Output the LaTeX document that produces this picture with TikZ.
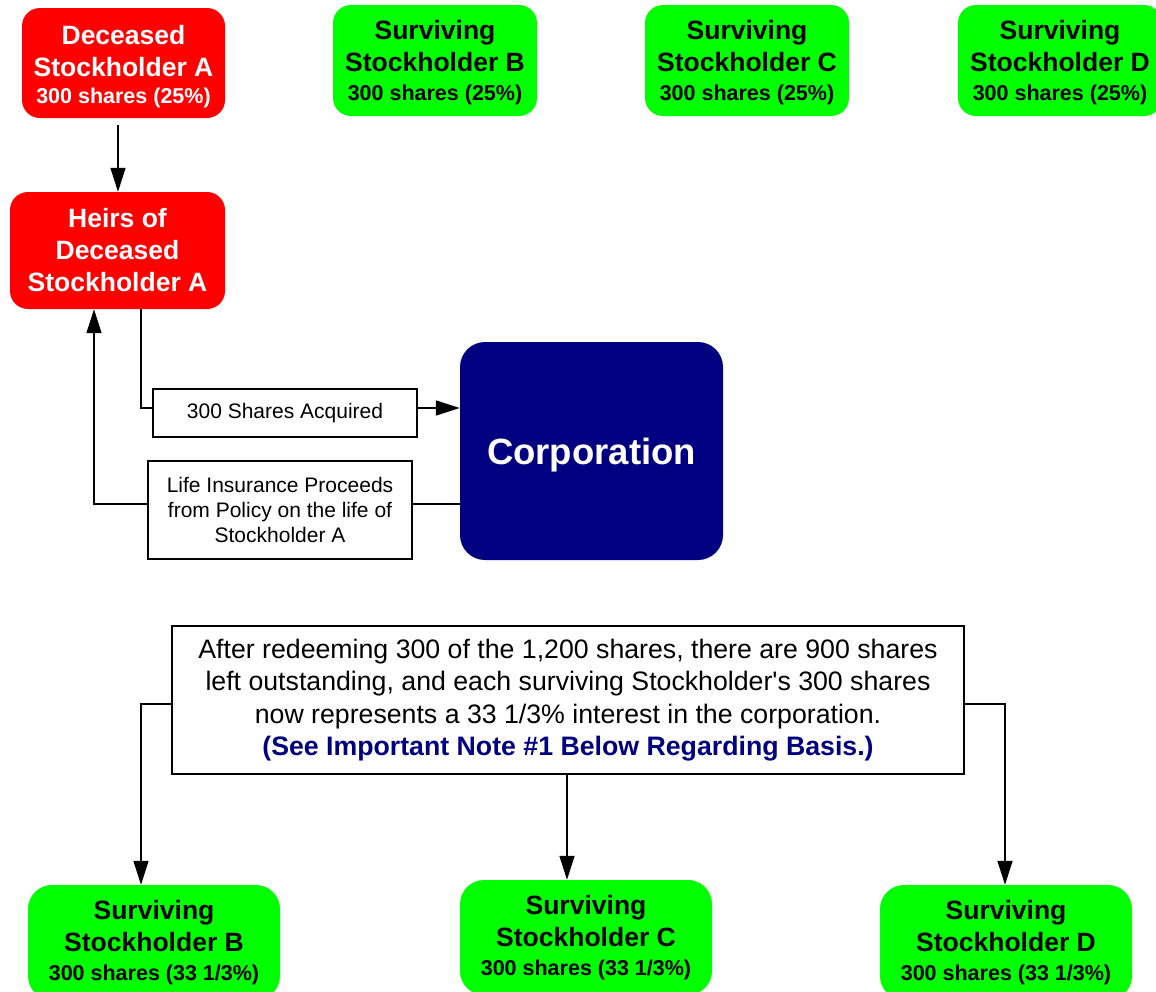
\documentclass[tikz,border=0pt]{standalone}
\usepackage{fontspec}
\setmainfont{Liberation Sans}
\usetikzlibrary{arrows.meta}
\definecolor{rred}{HTML}{FF0000}
\definecolor{ggreen}{HTML}{00FF00}
\definecolor{nnavy}{HTML}{000080}
\newcommand{\hd}{\fontsize{26.5}{32}\selectfont\bfseries}
\newcommand{\sh}{\fontsize{21.5}{29}\selectfont\bfseries}
\tikzset{
  redbox/.style={fill=rred, rounded corners=18pt, inner sep=0pt, minimum width=203pt, minimum height=110pt},
  greenbox/.style={fill=ggreen, rounded corners=18pt, inner sep=0pt, minimum width=204pt, minimum height=111pt},
  greenbig/.style={fill=ggreen, rounded corners=24pt, inner sep=0pt, minimum width=252pt, minimum height=115pt},
  boxtext/.style={inner sep=0pt, align=center, font=\hd},
  plainbox/.style={draw=black, line width=1.5pt, fill=white, inner sep=0pt, align=center},
  conn/.style={line width=1.5pt, draw=black},
  arr/.style={conn, -{Triangle[length=24pt,width=15pt]}}
}
\begin{document}
\begin{tikzpicture}[x=1pt,y=-1pt]
\useasboundingbox (0,0) rectangle (1156,991);
\clip (0,0) rectangle (1156,991);

% top row
\node[redbox] (dA) at (123.5,63) {};
\node[boxtext, text=white] (dAt) at (123.5,66.5) {Deceased\\Stockholder A\\[-4.5pt]\sh 300 shares (25\%)};
\node[greenbox] (sB) at (435,60.5) {};
\node[boxtext] (sBt) at (435,62.5) {Surviving\\Stockholder B\\[-3.5pt]\sh 300 shares (25\%)};
\node[greenbox] (sC) at (747,60.5) {};
\node[boxtext] (sCt) at (747,62.5) {Surviving\\Stockholder C\\[-3.5pt]\sh 300 shares (25\%)};
\node[greenbox] (sD) at (1060,60.5) {};
\node[boxtext] (sDt) at (1060,62.5) {Surviving\\Stockholder D\\[-3.5pt]\sh 300 shares (25\%)};

% heirs
\node[redbox, minimum width=215pt, minimum height=117pt] (heirs) at (117.5,250.5) {};
\node[boxtext, text=white] (heirst) at (117.5,250.5) {Heirs of\\Deceased\\Stockholder A};

% corporation
\node[fill=nnavy, rounded corners=25pt, inner sep=0pt, minimum width=263pt, minimum height=218pt] (corp) at (591.5,451) {};
\node[text=white, inner sep=0pt, font=\fontsize{36.5}{40}\selectfont\bfseries] (corpt) at (591.5,455) {Corporation};

% label boxes
\node[plainbox, minimum width=264pt, minimum height=48pt, font=\fontsize{21}{25}\selectfont] (shares) at (285,413) {300 Shares Acquired};
\node[plainbox, minimum width=264pt, minimum height=98pt, font=\fontsize{21}{25}\selectfont] (life) at (280,510) {Life Insurance Proceeds\\from Policy on the life of\\Stockholder A};

% note
\node[plainbox, minimum width=792pt, minimum height=148pt, font=\fontsize{26.7}{32.3}\selectfont] (note) at (568,700) {After redeeming 300 of the 1,200 shares, there are 900 shares\\left outstanding, and each surviving Stockholder\textquotesingle s 300 shares\\now represents a 33 1/3\% interest in the corporation.\\\textcolor{nnavy}{\bfseries (See Important Note \#1 Below Regarding Basis.)}};

% bottom row
\node[greenbig] (bB) at (154,942.5) {};
\node[boxtext] (bBt) at (154,942.5) {Surviving\\Stockholder B\\[-3pt]\sh 300 shares (33 1/3\%)};
\node[greenbig] (bC) at (586,937.5) {};
\node[boxtext] (bCt) at (586,937.5) {Surviving\\Stockholder C\\[-3pt]\sh 300 shares (33 1/3\%)};
\node[greenbig] (bD) at (1006,942.5) {};
\node[boxtext] (bDt) at (1006,942.5) {Surviving\\Stockholder D\\[-3pt]\sh 300 shares (33 1/3\%)};

% connectors
\draw[arr] (118,125) -- (heirs.north -| 118,0);
\coordinate (sIn) at (153,408);
\coordinate (sOut) at (417,408);
\draw[conn] (heirs.south -| 141,0) |- (sIn);
\draw[arr] (sOut) -- (corp.west |- sOut);
\coordinate (lIn) at (412,504);
\coordinate (lOut) at (148,504);
\draw[conn] (corp.west |- lIn) -- (lIn);
\draw[arr] (lOut) -| (heirs.south -| 94,0);

\coordinate (nL) at (172,704);
\coordinate (nR) at (964,704);
\draw[arr] (nL) -| (bB.north -| 141,0);
\draw[arr] (note.south -| 567,0) -- (bC.north -| 567,0);
\draw[arr] (nR) -| (bD.north -| 1005,0);
\end{tikzpicture}
\end{document}
